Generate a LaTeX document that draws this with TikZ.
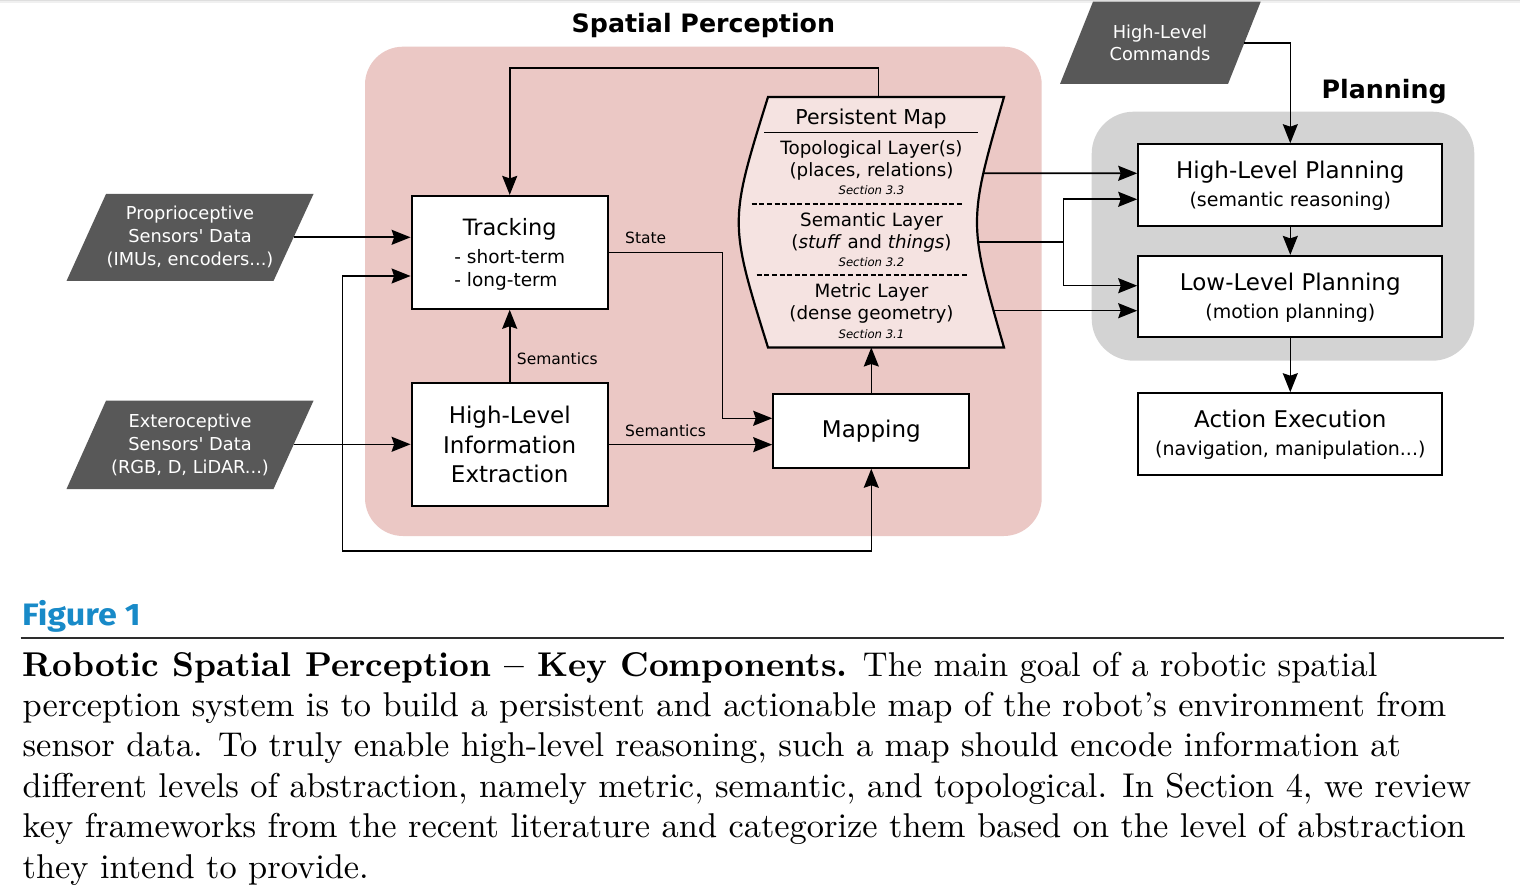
\documentclass[tikz,border=0pt]{standalone}
\usepackage{fontspec}
\newfontfamily\dv{DejaVu Sans}[Ligatures=TeXOff]
\newfontfamily\figfont{Fira Sans}[FakeStretch=1.1]
\usetikzlibrary{arrows.meta,calc}
\definecolor{pinkbg}{RGB}{235,200,197}
\definecolor{graybg}{RGB}{211,211,211}
\definecolor{mapfill}{RGB}{245,227,225}
\definecolor{datafill}{RGB}{88,88,88}
\definecolor{figblue}{RGB}{24,138,200}
\definecolor{rulecol}{RGB}{45,45,45}
\begin{document}
\begin{tikzpicture}[x=1pt,y=-1pt,
  arr/.style={line width=1.6pt,-{Stealth[length=19pt,width=15pt,inset=2.5pt]}},
  conn/.style={line width=1.6pt},
  box/.style={draw,line width=2.2pt,fill=white,inner sep=0pt,align=center},
  bigbox/.style={box,font=\dv\fontsize{19}{28}\selectfont,minimum width=304pt},
  datatxt/.style={inner sep=0pt,align=center,text=white,font=\dv\fontsize{17.8}{23}\selectfont},
  title/.style={inner sep=0pt,anchor=base,font=\dv\bfseries\fontsize{25.3}{30}\selectfont},
  lbl/.style={inner sep=0pt,anchor=base west,font=\dv\fontsize{15.5}{18}\selectfont},
  pmtxt/.style={inner sep=0pt,anchor=base,font=\dv\fontsize{18.3}{22}\selectfont},
  pmsec/.style={inner sep=0pt,anchor=base,font=\dv\itshape\fontsize{11.7}{14}\selectfont},
  capt/.style={inner sep=0pt,anchor=base west,scale=3.44,font=\fontsize{10}{12}\selectfont}
]
\useasboundingbox (0,0) rectangle (1520,890);
\fill[white] (0,0) rectangle (1520,890);
\fill[black!13] (0,0) rectangle (1520,1.5);
\fill[black!6] (0,1.5) rectangle (1520,3);

% panels
\fill[pinkbg, rounded corners=38pt] (365,46.7) rectangle (1041.7,536);
\fill[graybg, rounded corners=42pt] (1091.7,111.7) rectangle (1474.3,360.7);
\node[title] (tsp) at (703.4,32.5) {Spatial Perception};
\node[title] (tpl) at (1384.2,98.3) {Planning};

% data inputs
\fill[datafill] (106,194) -- (313.5,194) -- (273.5,281) -- (66.5,281) -- cycle;
\fill[datafill] (106,400.7) -- (313.5,400.7) -- (273.5,489) -- (66.5,489) -- cycle;
\fill[datafill] (1093,1.7) -- (1260.7,1.7) -- (1228,84) -- (1060,84) -- cycle;
\node[datatxt] (prop) at (190,237.4) {Proprioceptive\\Sensors' Data\\(IMUs, encoders...)};
\node[datatxt] (extd) at (190,444.7) {Exteroceptive\\Sensors' Data\\(RGB, D, LiDAR...)};
\node[datatxt,font=\dv\fontsize{17.8}{22.4}\selectfont] (cmd) at (1160,43) {High-Level\\Commands};

% boxes
\node[box, minimum width=196pt, minimum height=112.7pt, font=\dv\fontsize{18.5}{22.7}\selectfont] (track) at (509.7,252.35)
  {{\fontsize{22.5}{22.7}\selectfont\rule{0pt}{21.5pt}Tracking}\\[5.6pt]- short-term\\\makebox[0pt][l]{- long-term}\hphantom{- short-term}};
\node[box, minimum width=196pt, minimum height=122.7pt, font=\dv\fontsize{23}{29.7}\selectfont] (hlie) at (509.7,444.65)
  {High-Level\\Information\\Extraction};
\node[box, minimum width=196pt, minimum height=73.4pt, font=\dv\fontsize{23}{28}\selectfont] (map) at (871.3,431) {Mapping};
\node[bigbox, minimum height=81.7pt] (hlp) at (1290.3,185.15)
  {{\fontsize{23}{28}\selectfont\rule{0pt}{19.5pt}High-Level Planning}\\(semantic reasoning)};
\node[bigbox, minimum height=81.3pt] (llp) at (1290.3,296.65)
  {{\fontsize{23}{28}\selectfont\rule{0pt}{20.5pt}Low-Level Planning}\\(motion planning)};
\node[bigbox, minimum height=81.7pt] (act) at (1290.3,434.15)
  {{\fontsize{23}{28}\selectfont\rule{0pt}{19pt}Action Execution}\\(navigation, manipulation...)};

% coordinates
\coordinate (propR) at (293.6,237.3);
\coordinate (extR) at (293.7,444.3);
\coordinate (xbr) at (342.3,444.3);
\coordinate (xbot) at (342.3,551);
\coordinate (pmT) at (878.3,97);
\coordinate (loopTR) at (878.3,68.3);
\coordinate (stC) at (722.3,252.35);
\coordinate (pmB) at (871.3,347.5);
\coordinate (pmTopo) at (960,173.3);
\coordinate (pmSem) at (960,242.3);
\coordinate (pmMet) at (960,310.7);
\coordinate (sb) at (1063.3,242.3);
\coordinate (cmdR) at (1244.2,43.3);

% connectors
\draw[arr] (propR) -- (propR -| track.west);
\draw[arr] (extR) -- (extR -| hlie.west);
\draw[arr] (xbr) |- ([yshift=-23.65pt]track.west);
\draw[arr] (xbr) -- (xbot) -| (map.south);
\draw[arr] (pmT) -- (loopTR) -| (track.north);
\draw[arr] (track.east) -- (stC) |- ([yshift=12.7pt]map.west);
\draw[arr] (hlie.east) -- (hlie.east -| map.west);
\draw[arr] (hlie.north) -- (track.south);
\draw[arr] (map.north) -- (pmB);
\draw[arr] (pmTopo) -- ([yshift=11.85pt]hlp.west);
\draw[conn] (pmSem) -- (sb);
\draw[arr] (sb) |- ([yshift=-14.15pt]hlp.west);
\draw[arr] (sb) |- ([yshift=10.95pt]llp.west);
\draw[arr] (pmMet) -- ([yshift=-14.05pt]llp.west);
\draw[arr] (cmdR) -| (hlp.north);
\draw[arr] (hlp.south) -- (llp.north);
\draw[arr] (llp.south) -- (act.north);

% persistent map
\draw[line width=2.2pt, fill=mapfill] (768,97) -- (1004,97) .. controls (968,222.25) .. (1004,347.5)
  -- (768,347.5) .. controls (729,222.25) .. (768,97) -- cycle;
\draw[line width=1.5pt] (764.3,132.3) -- (977.7,132.3);
\draw[line width=1.3pt, dash pattern=on 5pt off 2.6pt] (751.7,204) -- (963.3,204);
\draw[line width=1.3pt, dash pattern=on 5pt off 2.6pt] (756.7,275) -- (968.3,275);
\node[pmtxt,font=\dv\fontsize{20.5}{24}\selectfont] (pmh) at (871,124.3) {Persistent Map};
\node[pmtxt] (pmt1) at (871.5,154.3) {Topological Layer(s)};
\node[pmtxt] (pmt2) at (871.5,176.7) {(places, relations)};
\node[pmsec] (pmt3) at (871.5,194.7) {Section 3.3};
\node[pmtxt] (pms1) at (871.5,226.7) {Semantic Layer};
\node[pmtxt] (pms2) at (871.5,248.3) {(\textit{stuff} and \textit{things})};
\node[pmsec] (pms3) at (871.5,266.7) {Section 3.2};
\node[pmtxt] (pmm1) at (871.5,297.3) {Metric Layer};
\node[pmtxt] (pmm2) at (871.5,320) {(dense geometry)};
\node[pmsec] (pmm3) at (871.5,338) {Section 3.1};

% labels
\node[lbl] (lstate) at (625,243.3) {State};
\node[lbl] (lsem1) at (516.7,364) {Semantics};
\node[lbl] (lsem2) at (625,436.7) {Semantics};

% caption
\node[inner sep=0pt, anchor=base west, text=figblue, font=\figfont\bfseries\fontsize{31}{36}\selectfont] (fig) at (22,625.7) {Figure 1};
\draw[line width=2pt, rulecol] (20.7,638.3) -- (1504,638.3);
\node[capt] (cap1) at (22,676) {\textbf{Robotic Spatial Perception -- Key Components.} The main goal of a robotic spatial};
\node[capt] (cap2) at (22,716.4) {perception system is to build a persistent and actionable map of the robot's environment from};
\node[capt] (cap3) at (22,756.8) {sensor data. To truly enable high-level reasoning, such a map should encode information at};
\node[capt] (cap4) at (22,797.2) {different levels of abstraction, namely metric, semantic, and topological. In Section 4, we review};
\node[capt] (cap5) at (22,837.6) {key frameworks from the recent literature and categorize them based on the level of abstraction};
\node[capt] (cap6) at (22,878) {they intend to provide.};
\end{tikzpicture}
\end{document}
